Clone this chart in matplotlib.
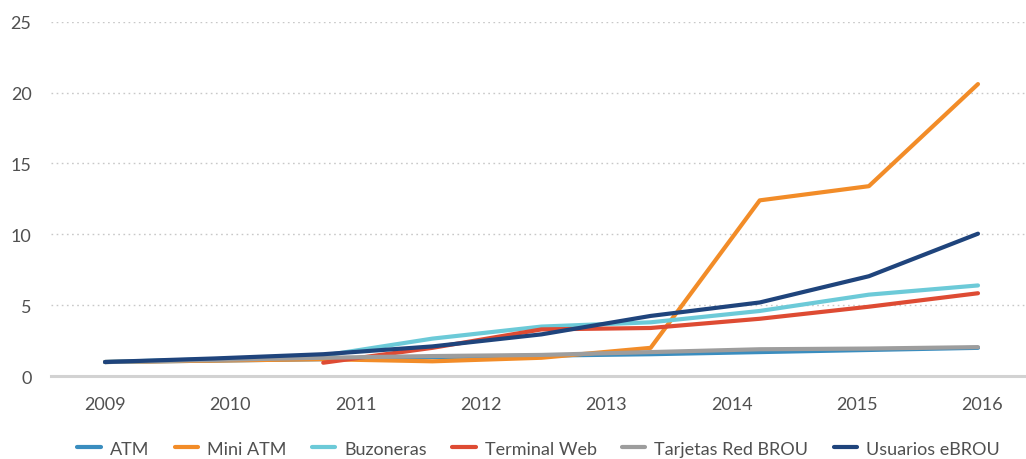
import matplotlib.pyplot as plt
import numpy as np

plt.rcParams['font.family'] = ['Lato', 'DejaVu Sans']

years = ["2009", "2010", "2011", "2012", "2013", "2014", "2015", "2016"]

atm = [1.0, 1.1, 1.2, 1.35, 1.45, 1.55, 1.7, 1.85, 2.0]
mini_atm = [1.0, 1.1, 1.2, 1.05, 1.3, 2.0, 12.4, 13.4, 20.6]
buzoneras = [1.0, 1.2, 1.45, 2.65, 3.5, 3.8, 4.6, 5.75, 6.4]
terminal_web = [None, None, 0.95, 2.0, 3.3, 3.4, 4.05, 4.9, 5.85]
tarjetas = [1.0, 1.15, 1.3, 1.42, 1.5, 1.7, 1.9, 1.95, 2.05]
usuarios = [1.0, 1.25, 1.55, 2.1, 2.95, 4.25, 5.2, 7.05, 10.05]

series = [
    ("ATM", atm, "#3a8dbf"),
    ("Mini ATM", mini_atm, "#f28c28"),
    ("Buzoneras", buzoneras, "#6ccad8"),
    ("Terminal Web", terminal_web, "#de4b33"),
    ("Tarjetas Red BROU", tarjetas, "#9d9d9d"),
    ("Usuarios eBROU", usuarios, "#1f447c"),
]

fig = plt.figure(figsize=(10.26, 4.6), dpi=100)
ax = fig.add_axes([0.0497, 0.180, 0.9503, 0.7707])

x = np.arange(len(atm))
for name, vals, col in series:
    y = np.array([np.nan if v is None else v for v in vals], dtype=float)
    ax.plot(x, y, color=col, lw=3.0, label=name,
            solid_capstyle='round', solid_joinstyle='round')

ax.set_xlim(-0.495, 8.44)
ax.set_ylim(0, 25)
ax.set_yticks([0, 5, 10, 15, 20, 25])
ax.set_xticks(np.linspace(0, 8.04, len(years)))
ax.set_xticklabels(years)

for v in [5, 10, 15, 20, 25]:
    ax.axhline(v, color="#c8c8c8", lw=1, ls=(0, (1.2, 2.5)), zorder=0)
ax.axhline(0, color="#d2d2d2", lw=2.2, zorder=0.5, clip_on=False)

for s in ax.spines.values():
    s.set_visible(False)
ax.tick_params(length=0, labelsize=13, colors="#505050")
ax.tick_params(axis='x', pad=14)
ax.tick_params(axis='y', pad=14)

fig.legend(loc='lower center', bbox_to_anchor=(0.525, -0.03), ncol=6,
           frameon=False, fontsize=13, handlelength=1.3, handletextpad=0.5,
           columnspacing=1.4, labelcolor="#505050")

fig.savefig("out.png", dpi=100)
